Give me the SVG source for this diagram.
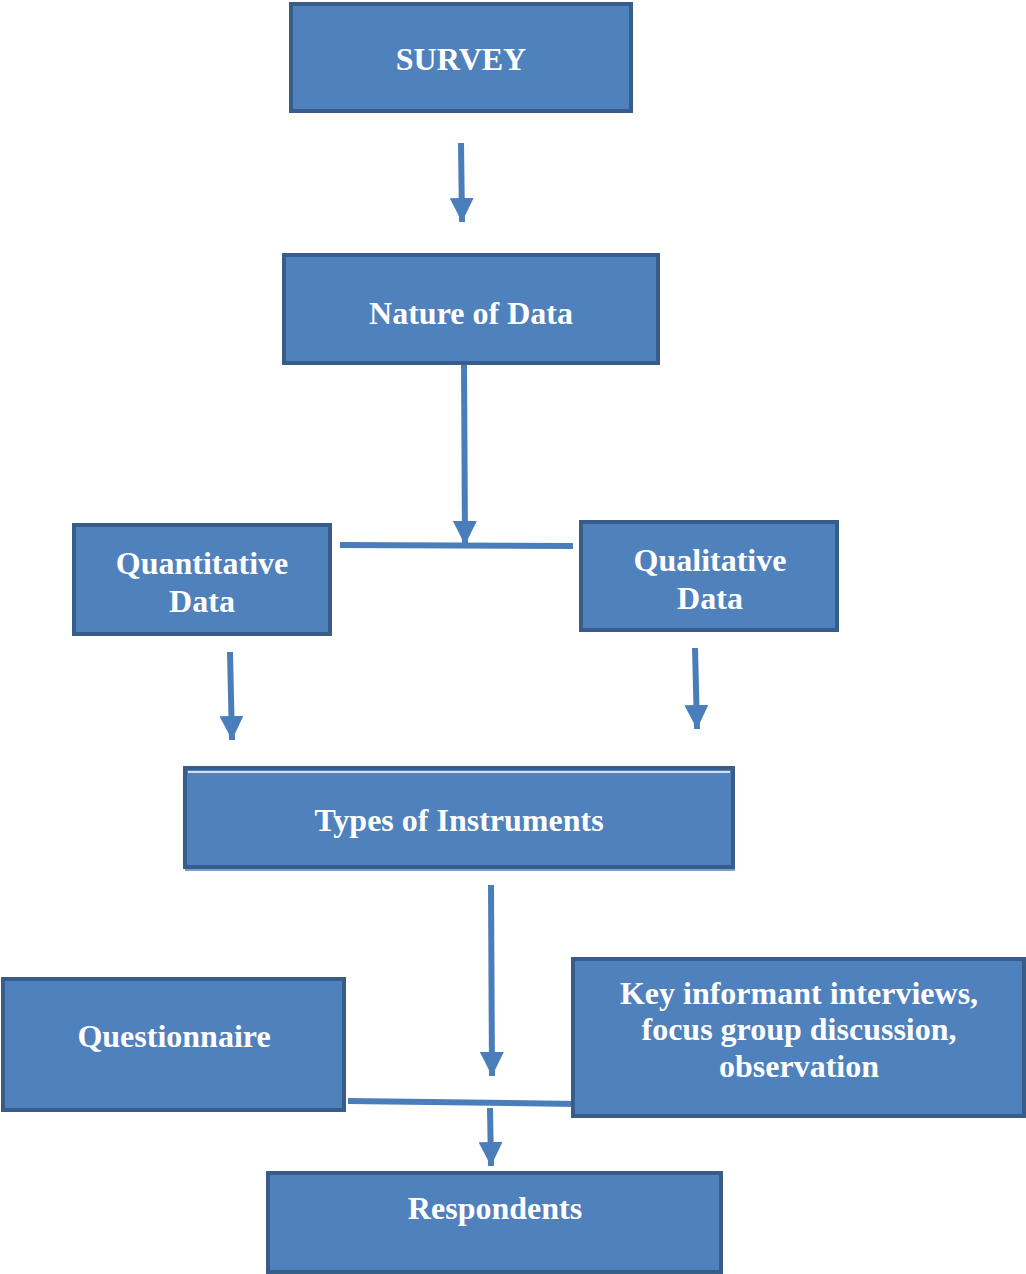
<svg xmlns="http://www.w3.org/2000/svg" width="1026" height="1274" viewBox="0 0 1026 1274">
<style>
.box{fill:#4F81BD;stroke:#385D8A;stroke-width:4}
.t{font-family:"Liberation Serif","Times New Roman",serif;font-weight:bold;font-size:32px;fill:#FFFFFF;text-anchor:middle}
.c{stroke:#4A7EBB;stroke-width:6;fill:none}
</style>
<defs>
<marker id="ah" markerWidth="4" markerHeight="4" refX="4" refY="2" orient="auto" markerUnits="strokeWidth">
<path d="M0,0 L4,2 L0,4 Z" fill="#4A7EBB"/>
</marker>
</defs>
<rect width="1026" height="1274" fill="#FFFFFF"/>
<g id="connectors">
<line class="c" x1="461" y1="143" x2="462" y2="222" marker-end="url(#ah)"/>
<line class="c" x1="464" y1="365" x2="465" y2="545" marker-end="url(#ah)"/>
<line class="c" x1="340" y1="545" x2="573" y2="546"/>
<line class="c" x1="230" y1="652" x2="232" y2="740" marker-end="url(#ah)"/>
<line class="c" x1="695" y1="648" x2="697" y2="729" marker-end="url(#ah)"/>
<line class="c" x1="491" y1="885" x2="492" y2="1076" marker-end="url(#ah)"/>
<line class="c" x1="348" y1="1101" x2="578" y2="1104"/>
<line class="c" x1="490" y1="1108" x2="491" y2="1166" marker-end="url(#ah)"/>
</g>
<g id="survey">
<rect class="box" x="291" y="4" width="340" height="107"/>
<text class="t" x="461" y="70">SURVEY</text>
</g>
<g id="nature">
<rect class="box" x="284" y="255" width="374" height="108"/>
<text class="t" x="471" y="324">Nature of Data</text>
</g>
<g id="quantitative">
<rect class="box" x="74" y="525" width="256" height="109"/>
<text class="t" x="202" y="574">Quantitative</text>
<text class="t" x="202" y="612">Data</text>
</g>
<g id="qualitative">
<rect class="box" x="581" y="522" width="256" height="108"/>
<text class="t" x="710" y="571">Qualitative</text>
<text class="t" x="710" y="609">Data</text>
</g>
<g id="instruments">
<rect class="box" x="185" y="768" width="548" height="99"/>
<line x1="188" y1="772" x2="730" y2="772" stroke="#FFFFFF" stroke-width="1.5"/>
<line x1="185" y1="870" x2="735" y2="870" stroke="#4F81BD" stroke-width="1.5"/>
<text class="t" x="459" y="831">Types of Instruments</text>
</g>
<g id="questionnaire">
<rect class="box" x="3" y="979" width="341" height="131"/>
<text class="t" x="174" y="1047">Questionnaire</text>
</g>
<g id="keyinformant">
<rect class="box" x="573" y="959" width="451" height="157"/>
<text class="t" x="799" y="1004">Key informant interviews,</text>
<text class="t" x="799" y="1040">focus group discussion,</text>
<text class="t" x="799" y="1077">observation</text>
</g>
<g id="respondents">
<rect class="box" x="268" y="1173" width="453" height="99"/>
<text class="t" x="495" y="1219">Respondents</text>
</g>
</svg>
